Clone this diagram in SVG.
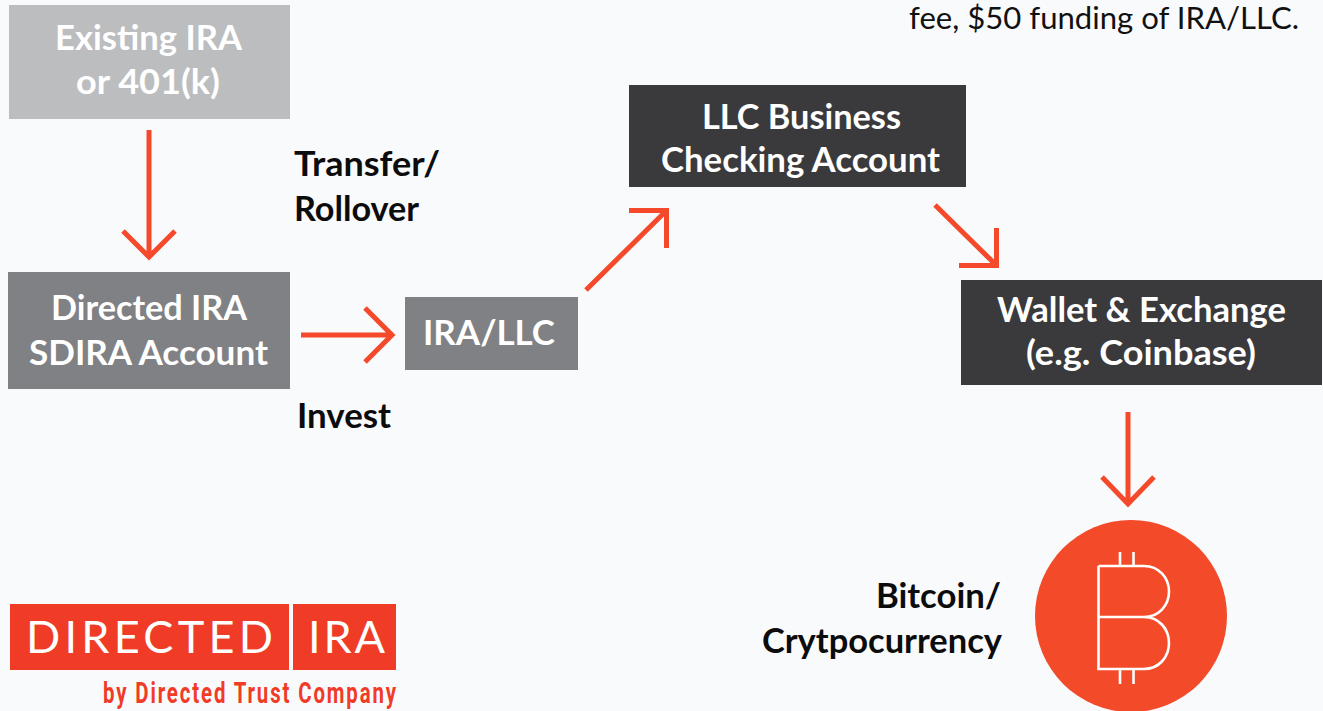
<svg xmlns="http://www.w3.org/2000/svg" width="1323" height="711" viewBox="0 0 1323 711">
<style>
.t{font-family:Lato,"Open Sans",sans-serif;font-weight:700;font-size:34.500px;fill:#fff;text-anchor:middle}
.l{font-family:Lato,"Open Sans",sans-serif;font-weight:700;font-size:34.500px;fill:#0c0c0c}
.a{fill:none;stroke:#f4492a;stroke-width:5}
.b{fill:none;stroke:#fff;stroke-width:2.600}
.g{font-family:Lato,"Liberation Sans",sans-serif;font-weight:400;font-size:45px;fill:#fff}
</style>
<rect width="1323" height="711" fill="#f9fafc"/>
<g id="connectors">
<path class="a" d="M149 130V257M123 231L149 257L175 231"/>
<path class="a" d="M301 335H392M365 308L392 335L365 362"/>
<path class="a" d="M586 290L666 211M629 210.500H666.500V248"/>
<path class="a" d="M935 205L996 265M959 265.500H996.500V228"/>
<path class="a" d="M1128 412V504M1102 477L1128 504L1154 477"/>
</g>
<g id="existing"><rect x="9" y="5" width="281" height="114" fill="#bcbdbf"/><text class="t" x="148.500" y="49.500" textLength="187" lengthAdjust="spacingAndGlyphs">Existing IRA</text><text class="t" x="148" y="93.500" textLength="144" lengthAdjust="spacingAndGlyphs">or 401(k)</text></g>
<g id="directed"><rect x="8" y="272" width="282" height="117" fill="#808184"/><text class="t" x="149" y="319.500" textLength="196" lengthAdjust="spacingAndGlyphs">Directed IRA</text><text class="t" x="148.500" y="364.500" textLength="239" lengthAdjust="spacingAndGlyphs">SDIRA Account</text></g>
<g id="irallc"><rect x="405" y="297" width="173" height="73" fill="#808184"/><text class="t" x="489" y="345" textLength="132" lengthAdjust="spacingAndGlyphs">IRA/LLC</text></g>
<g id="llc"><rect x="629" y="85" width="337" height="102" fill="#3a3a3c"/><text class="t" x="801.500" y="128.500" textLength="199" lengthAdjust="spacingAndGlyphs">LLC Business</text><text class="t" x="800.500" y="171.500" textLength="279" lengthAdjust="spacingAndGlyphs">Checking Account</text></g>
<g id="wallet"><rect x="961" y="280" width="361" height="105" fill="#3a3a3c"/><text class="t" x="1141.500" y="321.500" textLength="289" lengthAdjust="spacingAndGlyphs">Wallet &amp; Exchange</text><text class="t" x="1141" y="364.500" textLength="230" lengthAdjust="spacingAndGlyphs">(e.g. Coinbase)</text></g>
<g id="bitcoin"><circle cx="1131" cy="616" r="96" fill="#f34a29"/>
<path class="b" d="M1098.500 566H1144C1159 566 1169 578 1169 591.500C1169 605 1159 617 1144 617H1098.500V566M1144 617C1159 617 1169 629 1169 643C1169 657 1159 669 1144 669H1098.500V617M1120 566V552M1133.500 566V552M1120 669V684M1133.500 669V684"/></g>
<g id="labels">
<text class="l" x="294" y="176" textLength="146" lengthAdjust="spacingAndGlyphs">Transfer/</text><text class="l" x="294" y="220.500" textLength="125" lengthAdjust="spacingAndGlyphs">Rollover</text>
<text class="l" x="297" y="427.500" textLength="94" lengthAdjust="spacingAndGlyphs">Invest</text>
<text class="l" x="876" y="607.500" textLength="125" lengthAdjust="spacingAndGlyphs">Bitcoin/</text><text class="l" x="762" y="652.500" textLength="240" lengthAdjust="spacingAndGlyphs">Crytpocurrency</text>
<text x="909" y="29" textLength="390" lengthAdjust="spacingAndGlyphs" font-family="Lato,'Open Sans',sans-serif" font-size="31" fill="#111">fee, $50 funding of IRA/LLC.</text>
</g>
<g id="logo"><rect x="10" y="604" width="279" height="66" fill="#f03c26"/><rect x="293" y="604" width="103" height="66" fill="#f03c26"/>
<text class="g" x="26" y="653" textLength="247" lengthAdjust="spacing">DIRECTED</text>
<text class="g" x="308" y="653" textLength="77" lengthAdjust="spacing">IRA</text>
<text transform="translate(103 703) scale(.68 1)" textLength="431" lengthAdjust="spacing" font-family="Roboto,'Liberation Sans',sans-serif" font-weight="700" font-size="30" fill="#f03c26">by Directed Trust Company</text></g>
</svg>
